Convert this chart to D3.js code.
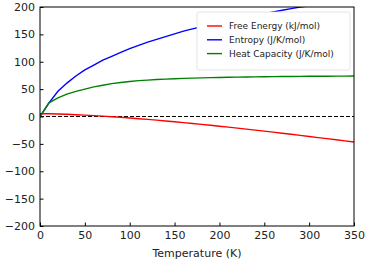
<!DOCTYPE html>
<html>
<head>
<meta charset="utf-8">
<script src="https://cdn.jsdelivr.net/npm/d3@7"></script>
<style>
  body { margin: 0; background: #fff; }
  text { font-family: "DejaVu Sans", sans-serif; }
</style>
</head>
<body>
<div id="chart"></div>
<script>
// Temperature samples (K)
var temps = [0, 10, 20, 30, 40, 50, 60, 70, 80, 90, 100, 110, 120, 130, 140, 150, 160, 170, 180,
  190, 200, 210, 220, 230, 240, 250, 260, 270, 280, 290, 300, 310, 320, 330, 340, 350];

// Free energy (kJ/mol)
var freeEnergy = [5, 4.9, 4.5, 4.0, 3.3, 2.5, 1.6, 0.6, -0.4, -1.5, -2.7, -4.0, -5.3, -6.7, -8.1,
  -9.6, -11.2, -12.8, -14.4, -16.1, -17.8, -19.5, -21.3, -23.1, -24.9, -26.7, -28.6, -30.5,
  -32.5, -34.5, -36.5, -38.5, -40.5, -42.5, -44.6, -46.7];

// Entropy (J/K/mol)
var entropy = [0, 25, 46, 61, 74, 85, 94, 103, 110, 117, 124, 130, 136, 141, 146, 151, 156, 160,
  164, 168, 172, 175, 179, 182, 185, 188, 191, 194, 197, 200, 202, 205, 207, 209, 212, 214];

// Heat capacity (J/K/mol)
var heatCap = [0, 25, 34, 41, 46, 50, 54, 57, 60, 62, 64, 65.5, 66.5, 67.5, 68.3, 69, 69.6, 70.1,
  70.6, 71, 71.3, 71.6, 71.9, 72.2, 72.4, 72.6, 72.8, 73, 73.1, 73.3, 73.4, 73.5, 73.6, 73.7,
  73.8, 73.9];

var seriesNames = ["Free Energy (kJ/mol)", "Entropy (J/K/mol)", "Heat Capacity (J/K/mol)"];
var seriesColors = ["#ff0000", "#0000ff", "#008000"];
var xTicks = [0, 50, 100, 150, 200, 250, 300, 350];
var yTicks = [-200, -150, -100, -50, 0, 50, 100, 150, 200];

var W = 368, H = 262;
var margin = {top: 7, right: 14, bottom: 36, left: 40},
  width = W - margin.left - margin.right,
  height = H - margin.top - margin.bottom;

var xScale = d3.scaleLinear().domain([0, 350]).range([0, width]),
  yScale = d3.scaleLinear().domain([-200, 200]).range([height, 0]);

var svg = d3.select("#chart").append("svg")
  .attr("width", W)
  .attr("height", H)
  .append("g")
  .attr("transform", "translate(" + margin.left + "," + margin.top + ")");

svg.append("defs").append("clipPath")
  .attr("id", "clip")
  .append("rect")
  .attr("width", width)
  .attr("height", height);

// zero line
svg.append("line")
  .attr("x1", 0).attr("x2", width)
  .attr("y1", yScale(0)).attr("y2", yScale(0))
  .attr("stroke", "#000")
  .attr("stroke-width", 1)
  .attr("stroke-dasharray", "4,2");

var line = d3.line()
  .x(function(d) { return xScale(d[0]); })
  .y(function(d) { return yScale(d[1]); });

var allSeries = [freeEnergy, entropy, heatCap];
allSeries.forEach(function(vals, i) {
  svg.append("path")
    .datum(temps.map(function(t, j) { return [t, vals[j]]; }))
    .attr("clip-path", "url(#clip)")
    .attr("fill", "none")
    .attr("stroke", seriesColors[i])
    .attr("stroke-width", 1.4)
    .attr("d", line);
});

// axes (ticks point inward)
var xAxis = d3.axisBottom(xScale).tickValues(xTicks).tickSize(-3.5).tickPadding(5),
  yAxis = d3.axisLeft(yScale).tickValues(yTicks).tickSize(-3.5).tickPadding(5);

var gx = svg.append("g")
  .attr("transform", "translate(0," + height + ")")
  .call(xAxis);
var gy = svg.append("g").call(yAxis);

[gx, gy].forEach(function(g) {
  g.select(".domain").remove();
  g.selectAll("line").attr("stroke", "#000");
  g.selectAll("text").attr("fill", "#222").style("font-size", "11px");
});

// frame
svg.append("rect")
  .attr("width", width)
  .attr("height", height)
  .attr("fill", "none")
  .attr("stroke", "#000")
  .attr("stroke-width", 1);

svg.append("text")
  .attr("x", width / 2)
  .attr("y", height + 31)
  .attr("text-anchor", "middle")
  .attr("fill", "#222")
  .style("font-size", "11px")
  .text("Temperature (K)");

// legend
var legend = svg.append("g").attr("transform", "translate(157,5)");
legend.append("rect")
  .attr("width", 153)
  .attr("height", 58)
  .attr("rx", 2)
  .attr("fill", "#fff")
  .attr("stroke", "#ddd")
  .attr("stroke-width", 0.8);

seriesNames.forEach(function(name, i) {
  var yy = 14 + i * 13.8;
  legend.append("line")
    .attr("x1", 10).attr("x2", 25)
    .attr("y1", yy).attr("y2", yy)
    .attr("stroke", seriesColors[i])
    .attr("stroke-width", 1.4);
  legend.append("text")
    .attr("x", 32)
    .attr("y", yy)
    .attr("dy", "0.35em")
    .attr("fill", "#222")
    .style("font-size", "9px")
    .text(name);
});
</script>
</body>
</html>
